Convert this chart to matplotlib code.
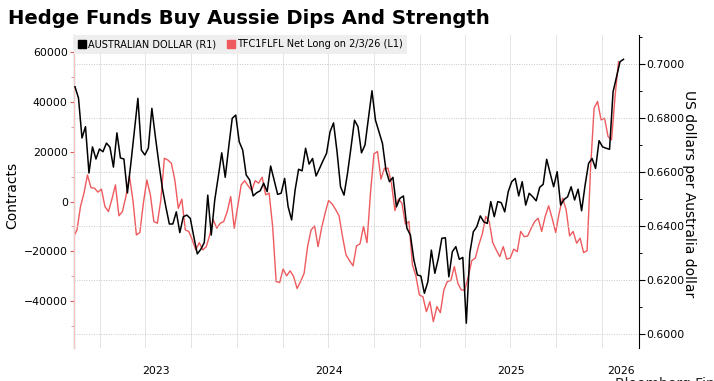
import matplotlib
matplotlib.use("Agg")
import matplotlib.pyplot as plt
import matplotlib.dates as mdates
from matplotlib.lines import Line2D
from matplotlib.ticker import MultipleLocator, FixedLocator, NullFormatter
import pandas as pd

title = "Hedge Funds Buy Aussie Dips And Strength"
aud_label = "AUSTRALIAN DOLLAR (R1)"
cftc_label = "TFC1FLFL Net Long on 2/3/26 (L1)"

# Weekly AUD/USD (right axis)
aud_values = [
    0.6917, 0.6875, 0.6727, 0.6769, 0.6597, 0.6694, 0.6649, 0.6686, 0.6676, 0.6708,
    0.6693, 0.6619, 0.6746, 0.6653, 0.6649, 0.6523, 0.6634, 0.6753, 0.6874, 0.6682,
    0.6664, 0.6690, 0.6837, 0.6732, 0.6634, 0.6541, 0.6472, 0.6408, 0.6408, 0.6453,
    0.6376, 0.6435, 0.6441, 0.6429, 0.6361, 0.6297, 0.6314, 0.6339, 0.6515, 0.6367,
    0.6497, 0.6583, 0.6672, 0.6581, 0.6694, 0.6800, 0.6812, 0.6713, 0.6682, 0.6590,
    0.6571, 0.6512, 0.6524, 0.6531, 0.6559, 0.6528, 0.6623, 0.6571, 0.6518, 0.6522,
    0.6577, 0.6472, 0.6423, 0.6534, 0.6611, 0.6605, 0.6689, 0.6630, 0.6651, 0.6586,
    0.6614, 0.6643, 0.6670, 0.6750, 0.6783, 0.6676, 0.6546, 0.6515, 0.6596, 0.6692,
    0.6793, 0.6769, 0.6672, 0.6701, 0.6800, 0.6902, 0.6793, 0.6750, 0.6707, 0.6608,
    0.6565, 0.6581, 0.6472, 0.6503, 0.6512, 0.6392, 0.6367, 0.6274, 0.6219, 0.6215,
    0.6151, 0.6194, 0.6311, 0.6225, 0.6281, 0.6355, 0.6357, 0.6212, 0.6305, 0.6324,
    0.6277, 0.6284, 0.6040, 0.6299, 0.6379, 0.6398, 0.6438, 0.6416, 0.6410, 0.6491,
    0.6435, 0.6491, 0.6487, 0.6453, 0.6528, 0.6565, 0.6577, 0.6512, 0.6565, 0.6478,
    0.6522, 0.6509, 0.6494, 0.6544, 0.6555, 0.6648, 0.6596, 0.6546, 0.6602, 0.6478,
    0.6499, 0.6509, 0.6546, 0.6497, 0.6537, 0.6457, 0.6552, 0.6633, 0.6651, 0.6614,
    0.6717, 0.6694, 0.6689, 0.6685, 0.6898, 0.6954, 0.7010, 0.7019,
]

# Weekly CFTC net long contracts (left axis)
cftc_values = [
    -14100, -11400, -2000, 3400, 10700, 5600, 5400, 3800, 5000, -2000,
    -4000, 1000, 6700, -5700, -4000, 2000, 10300, 700, -13400, -12400,
    -600, 8700, 2700, -8000, -8700, 700, 17400, 16700, 15400, 8700,
    -2700, 1000, -11400, -12000, -15400, -19400, -16500, -19400, -18100, -13400,
    -7300, -10700, -8700, -8000, -4000, 2000, -10700, -2000, 6700, 8400,
    6300, 4400, 8400, 7400, 9800, 2700, 3400, -10000, -32100, -32500,
    -27100, -29800, -27800, -30100, -34900, -32100, -28800, -18100, -11400, -9800,
    -18100, -10700, -4700, 400, -900, -3100, -5700, -14100, -21400, -23700,
    -25800, -17800, -17000, -10000, -16500, 3400, 19200, 20100, 9000, 13400,
    13400, 7400, -3600, 1000, -600, -9100, -8000, -25400, -29800, -37500,
    -38200, -44200, -40200, -48200, -42200, -44600, -35500, -32100, -31700, -26100,
    -32800, -35500, -35500, -30100, -23700, -22700, -17400, -13000, -6000, -8000,
    -16500, -19400, -22100, -18100, -23100, -22700, -19100, -20100, -12000, -14100,
    -13800, -10700, -8000, -6700, -12000, -6000, -1700, -6700, -12400, -4700,
    1400, -3300, -13800, -12000, -16700, -14700, -20500, -19700, 13400, 37500,
    40200, 32800, 33500, 26100, 24800, 42200, 56200,
]

left_ticks = [-40000, -20000, 0, 20000, 40000, 60000]
right_ticks = [0.6000, 0.6200, 0.6400, 0.6600, 0.6800, 0.7000]

aud_dates = pd.date_range("2023-02-10", periods=len(aud_values), freq="7D")
cftc_dates = pd.date_range("2023-02-07", periods=len(cftc_values), freq="7D")

RED = "#ee5a5e"

plt.rcParams["font.family"] = ["DejaVu Sans"]

fig = plt.figure(figsize=(7.14, 3.81), dpi=100)
ax = fig.add_axes([74 / 714, 1 - 348 / 381, (639 - 74) / 714, (348 - 35) / 381])
ax2 = ax.twinx()

xmin, xmax = pd.Timestamp("2023-02-08"), pd.Timestamp("2026-03-16")
ax.set_xlim(xmin, xmax)
ax.set_ylim(-58800, 66900)
ax2.set_ylim(0.5948, 0.7109)

ax.plot(cftc_dates, cftc_values, color=RED, lw=1.0, zorder=3)
ax2.plot(aud_dates, aud_values, color="black", lw=1.1, zorder=4)

# x axis: quarterly gridlines, year labels centred on visible part of each year
quarters = pd.date_range("2023-01-01", "2026-03-31", freq="QS")
ax.xaxis.set_major_locator(FixedLocator(mdates.date2num(quarters)))
ax.xaxis.set_major_formatter(NullFormatter())
centres, labels = [], []
for yr in range(2023, 2027):
    a = max(pd.Timestamp(f"{yr}-01-01"), xmin)
    b = min(pd.Timestamp(f"{yr + 1}-01-01"), xmax)
    centres.append(mdates.date2num(a) + (mdates.date2num(b) - mdates.date2num(a)) / 2)
    labels.append(str(yr))
ax.xaxis.set_minor_locator(FixedLocator(centres))
ax.set_xticks(centres, labels, minor=True)
ax.tick_params(axis="x", which="both", length=0, pad=13, labelsize=7.8)
ax.grid(axis="x", which="major", color="#e4e4e4", lw=0.7)

# left axis
ax.set_yticks(left_ticks)
ax.yaxis.set_minor_locator(MultipleLocator(10000))
ax.tick_params(axis="y", which="major", colors=RED, length=3, width=0.8,
               labelcolor="black", labelsize=7.8, pad=1.5)
ax.tick_params(axis="y", which="minor", colors="#f3a0a0", length=2, width=0.7)

# right axis
ax2.set_yticks(right_ticks)
ax2.set_yticklabels([f"{v:.4f}" for v in right_ticks])
ax2.yaxis.set_minor_locator(MultipleLocator(0.01))
ax2.tick_params(axis="y", which="major", length=4, width=0.8, labelsize=7.8, pad=1.5)
ax2.tick_params(axis="y", which="minor", length=2.5, width=0.7)
ax2.grid(axis="y", which="major", color="#c8c8c8", lw=0.7, linestyle=(0, (1, 1.5)))

for a in (ax, ax2):
    a.spines["top"].set_visible(False)
    a.spines["bottom"].set_visible(False)
ax.spines["right"].set_visible(False)
ax2.spines["left"].set_color("#f7c4c4")
ax2.spines["left"].set_linewidth(0.8)
ax2.spines["right"].set_color("black")
ax2.spines["right"].set_linewidth(0.8)

# legend
handles = [
    Line2D([], [], marker="s", color="black", lw=0, markersize=5.5),
    Line2D([], [], marker="s", color=RED, lw=0, markersize=5.5),
]
leg = ax2.legend(handles, [aud_label, cftc_label], loc="upper left", ncol=2,
                 frameon=True, fancybox=False, borderaxespad=0, fontsize=7.0,
                 handlelength=0.8, handletextpad=0.15, columnspacing=1.2,
                 borderpad=0.45)
leg.get_frame().set_facecolor("#eeeeee")
leg.get_frame().set_edgecolor("none")
leg.get_frame().set_alpha(1)

fig.text(12 / 714, 1 - 195 / 381, "Contracts", rotation=90, va="center", ha="center",
         fontsize=10)
fig.text(689 / 714, 1 - 194 / 381, "US dollars per Australia dollar", rotation=270,
         va="center", ha="center", fontsize=10)

fig.text(8 / 714, 1 - 18 / 381, title, fontsize=14.1, fontweight="bold",
         va="center", ha="left")

# source line, cut off by the bottom edge as in the reference
fig.text(615 / 714, 1 - 377 / 381, "Bloomberg Finance", fontsize=10, va="top",
         ha="left", color="#222222")

fig.savefig("out.png", dpi=100)
